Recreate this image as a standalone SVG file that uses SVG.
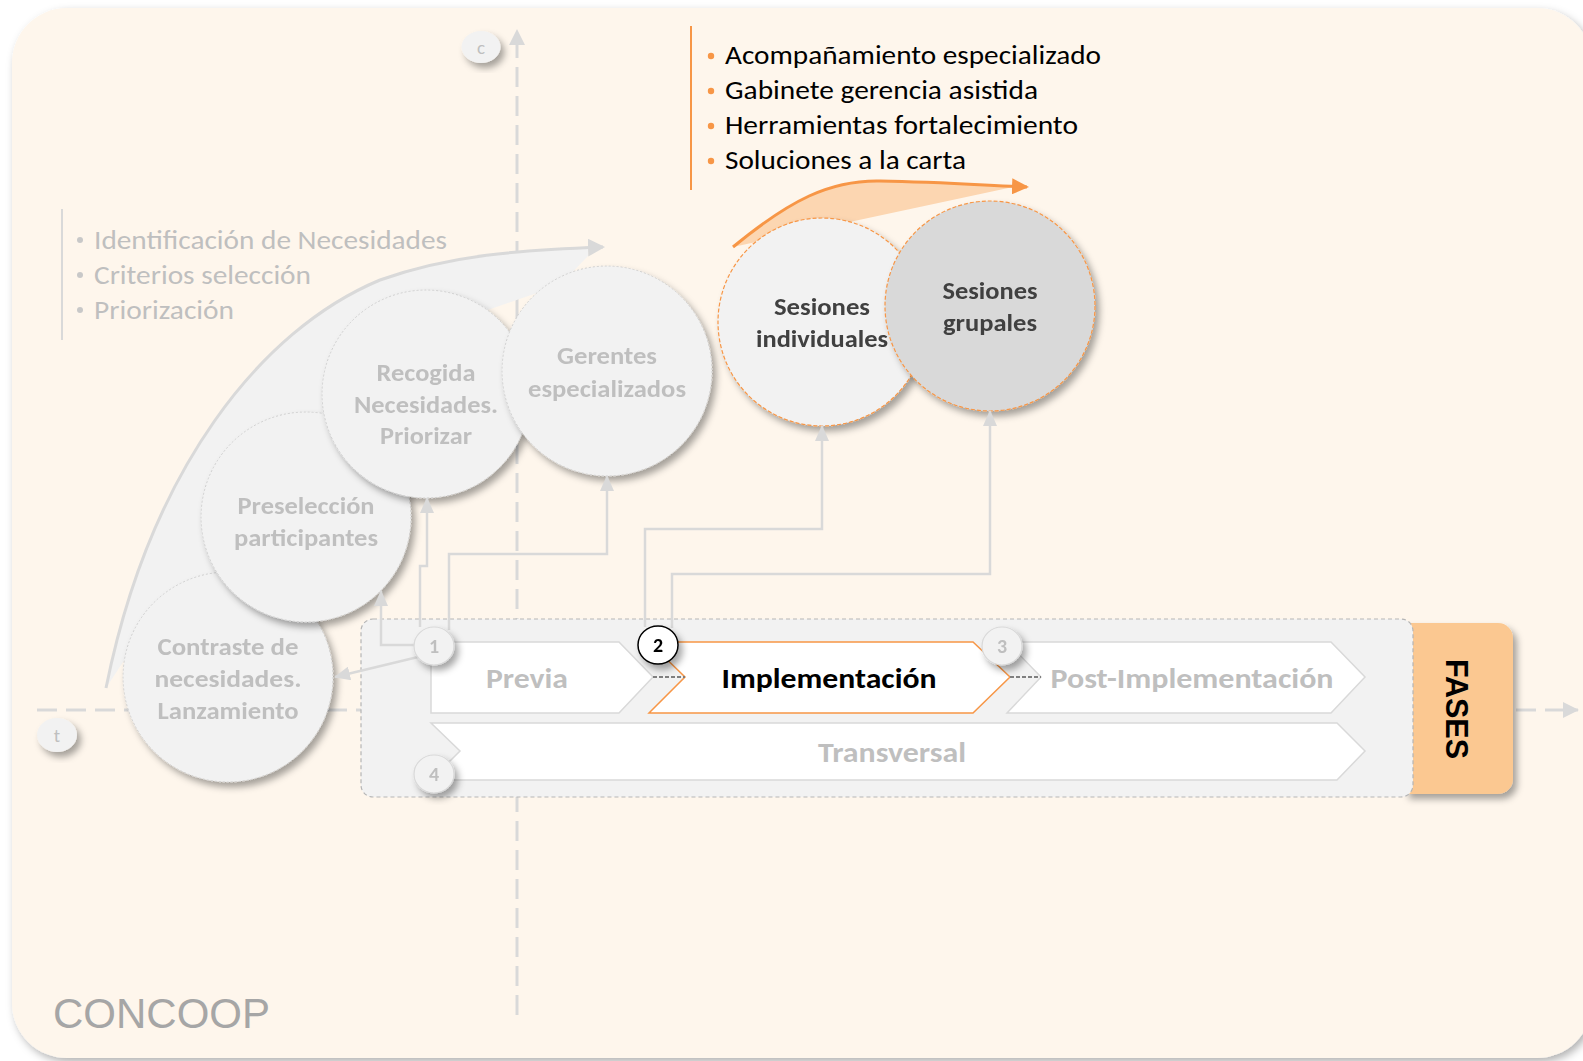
<svg xmlns="http://www.w3.org/2000/svg" width="1583" height="1061" viewBox="0 0 1583 1061">
<style>
.f{font-family:Carlito,Calibri,Lato,'Open Sans',sans-serif}
.axis{stroke:#D9D9D9;stroke-width:3;fill:none;stroke-dasharray:20 9}
.circ{fill:#F2F2F2;stroke:#CFCFCF;stroke-width:1;stroke-dasharray:2 2}
.scirc{stroke:#F79646;stroke-width:1.2;stroke-dasharray:4 2}
.ct{font-weight:bold;font-size:24px;fill:#BFBFBF;text-anchor:middle}
.st{font-weight:bold;font-size:24px;fill:#404040;text-anchor:middle}
.conn{stroke:#D9D9D9;stroke-width:2.5;fill:none;marker-end:url(#ga)}
.chev{fill:#FFFFFF;stroke:#D9D9D9;stroke-width:1.5}
.pt{font-weight:bold;font-size:28px;fill:#BFBFBF;text-anchor:middle}
.num{fill:#F2F2F2;stroke:#D9D9D9;stroke-width:1.2}
.nt{font-weight:bold;font-size:20px;fill:#BFBFBF;text-anchor:middle}
.gl{font-size:27px;fill:#BFBFBF}
.ol{font-size:27px;fill:#000000}
.gb{fill:#C8C8C8}
.ob{fill:#F79646}
.notch{stroke:#7F7F7F;stroke-width:2;stroke-dasharray:4 2}
</style>
<defs>
<filter id="sh" x="-20%" y="-20%" width="150%" height="150%">
<feDropShadow dx="4" dy="5" stdDeviation="3.5" flood-color="#000" flood-opacity="0.35"/>
</filter>
<filter id="bgsh" x="-5%" y="-5%" width="110%" height="110%">
<feDropShadow dx="3" dy="4" stdDeviation="4" flood-color="#000" flood-opacity="0.3"/>
</filter>
<marker id="ga" markerUnits="userSpaceOnUse" markerWidth="16" markerHeight="14" refX="15" refY="7" orient="auto">
<path d="M0,0 L16,7 L0,14 Z" fill="#D9D9D9"/>
</marker>
<marker id="axa" markerUnits="userSpaceOnUse" markerWidth="16" markerHeight="16" refX="15" refY="8" orient="auto">
<path d="M0,0 L16,8 L0,16 Z" fill="#D9D9D9"/>
</marker>
<marker id="lga" markerUnits="userSpaceOnUse" markerWidth="17" markerHeight="18" refX="15" refY="9" orient="auto">
<path d="M0,0 L17,9 L0,18 Z" fill="#D9D9D9"/>
</marker>
<marker id="oa" markerUnits="userSpaceOnUse" markerWidth="17" markerHeight="16" refX="15" refY="8" orient="auto">
<path d="M0,0 L17,8 L0,16 Z" fill="#F79646"/>
</marker>
</defs>

<rect id="background" x="12" y="8" width="1580" height="1050" rx="55" fill="#FEF6EC" filter="url(#bgsh)"/>

<g id="axes">
<line class="axis" x1="517" y1="1015" x2="517" y2="30" marker-end="url(#axa)"/>
<line class="axis" x1="37" y1="710" x2="1578" y2="710" marker-end="url(#axa)"/>
</g>

<g id="axis-c">
<ellipse cx="481" cy="47" rx="19.5" ry="16" fill="#F2F2F2" filter="url(#sh)"/>
<text class="f" x="481" y="54" font-size="19" fill="#BFBFBF" text-anchor="middle">c</text>
</g>
<g id="axis-t">
<ellipse cx="57" cy="735" rx="20" ry="17" fill="#F2F2F2" filter="url(#sh)"/>
<text class="f" x="57" y="742" font-size="19" fill="#BFBFBF" text-anchor="middle">t</text>
</g>

<g id="left-list">
<line x1="62" y1="209" x2="62" y2="340" stroke="#D9D9D9" stroke-width="2"/>
<circle class="gb" cx="80" cy="240" r="3"/>
<text class="f gl" x="94" y="249" textLength="353" lengthAdjust="spacingAndGlyphs">Identificación de Necesidades</text>
<circle class="gb" cx="80" cy="275" r="3"/>
<text class="f gl" x="94" y="284" textLength="217" lengthAdjust="spacingAndGlyphs">Criterios selección</text>
<circle class="gb" cx="80" cy="310" r="3"/>
<text class="f gl" x="94" y="319" textLength="140" lengthAdjust="spacingAndGlyphs">Priorización</text>
</g>

<g id="left-arrow">
<path d="M106,688 C150,470 260,330 380,280 C450,255 520,250 588,248 L588,256 L560,285 L430,330 L320,450 L220,600 L123,662 Z" fill="#F2F2F2"/>
<path d="M106,688 C150,470 260,330 380,280 C450,255 520,250 603,247" fill="none" stroke="#D9D9D9" stroke-width="3" marker-end="url(#lga)"/>
</g>

<g id="node-contraste" filter="url(#sh)">
<circle class="circ" cx="228" cy="677" r="105"/>
<text class="f ct" x="228" y="655" textLength="141" lengthAdjust="spacingAndGlyphs">Contraste de</text>
<text class="f ct" x="228" y="687" textLength="147" lengthAdjust="spacingAndGlyphs">necesidades.</text>
<text class="f ct" x="228" y="719" textLength="141" lengthAdjust="spacingAndGlyphs">Lanzamiento</text>
</g>
<g id="node-preseleccion" filter="url(#sh)">
<circle class="circ" cx="306" cy="517" r="105"/>
<text class="f ct" x="306" y="514" textLength="137" lengthAdjust="spacingAndGlyphs">Preselección</text>
<text class="f ct" x="306" y="546" textLength="144" lengthAdjust="spacingAndGlyphs">participantes</text>
</g>
<g id="node-recogida" filter="url(#sh)">
<circle class="circ" cx="426" cy="394" r="104"/>
<text class="f ct" x="426" y="381" textLength="99" lengthAdjust="spacingAndGlyphs">Recogida</text>
<text class="f ct" x="426" y="413" textLength="144" lengthAdjust="spacingAndGlyphs">Necesidades.</text>
<text class="f ct" x="426" y="444" textLength="92" lengthAdjust="spacingAndGlyphs">Priorizar</text>
</g>
<g id="node-gerentes" filter="url(#sh)">
<circle class="circ" cx="607" cy="371" r="105"/>
<text class="f ct" x="607" y="364" textLength="100" lengthAdjust="spacingAndGlyphs">Gerentes</text>
<text class="f ct" x="607" y="397" textLength="158" lengthAdjust="spacingAndGlyphs">especializados</text>
</g>

<g id="right-list">
<line x1="691" y1="26" x2="691" y2="190" stroke="#F79646" stroke-width="2"/>
<circle class="ob" cx="711" cy="56" r="3.2"/>
<text class="f ol" x="725" y="64" textLength="376" lengthAdjust="spacingAndGlyphs">Acompañamiento especializado</text>
<circle class="ob" cx="711" cy="91" r="3.2"/>
<text class="f ol" x="725" y="99" textLength="313" lengthAdjust="spacingAndGlyphs">Gabinete gerencia asistida</text>
<circle class="ob" cx="711" cy="126" r="3.2"/>
<text class="f ol" x="725" y="134" textLength="353" lengthAdjust="spacingAndGlyphs">Herramientas fortalecimiento</text>
<circle class="ob" cx="711" cy="161" r="3.2"/>
<text class="f ol" x="725" y="169" textLength="241" lengthAdjust="spacingAndGlyphs">Soluciones a la carta</text>
</g>

<g id="right-arrow-fill">
<path d="M733,247 C790,200 830,180 880,181 C940,182 980,185 1013,187 L733,247 Z" fill="#FCD6B1"/>
</g>

<g id="node-individuales" filter="url(#sh)">
<circle class="scirc" cx="822" cy="322" r="104" fill="#F2F2F2"/>
<text class="f st" x="822" y="315" textLength="96" lengthAdjust="spacingAndGlyphs">Sesiones</text>
<text class="f st" x="822" y="347" textLength="132" lengthAdjust="spacingAndGlyphs">individuales</text>
</g>
<g id="node-grupales" filter="url(#sh)">
<circle class="scirc" cx="990" cy="306" r="105" fill="#D9D9D9"/>
<text class="f st" x="990" y="299" textLength="95" lengthAdjust="spacingAndGlyphs">Sesiones</text>
<text class="f st" x="990" y="331" textLength="94" lengthAdjust="spacingAndGlyphs">grupales</text>
</g>

<g id="right-arrow">
<path d="M733,247 C790,200 830,180 880,181 C940,182 980,185 1027,187" fill="none" stroke="#F79646" stroke-width="3" marker-end="url(#oa)"/>
</g>

<g id="fases-tab" filter="url(#sh)">
<path d="M1405,623 H1498 A15,15 0 0 1 1513,638 V779 A15,15 0 0 1 1498,794 H1405 Z" fill="#FBC891"/>
</g>
<g id="phases-panel">
<rect x="361" y="619" width="1052" height="178" rx="12" fill="#F2F2F2" stroke="#B5B5B5" stroke-width="1.2" stroke-dasharray="4 3"/>
</g>
<g id="fases-label">
<text transform="translate(1446,709) rotate(90)" x="0" y="0" font-family="'Liberation Sans',Arial,sans-serif" font-weight="bold" font-size="32" fill="#000" text-anchor="middle" textLength="100" lengthAdjust="spacingAndGlyphs">FASES</text>
</g>

<g id="phase-previa">
<polygon class="chev" points="431,642 619,642 653,677 619,713 431,713"/>
<text class="f pt" x="527" y="688" textLength="82" lengthAdjust="spacingAndGlyphs">Previa</text>
</g>
<g id="phase-implementacion">
<polygon points="649,642 973,642 1010,677 973,713 649,713 685,677" fill="#FFFFFF" stroke="#F79646" stroke-width="1.5"/>
<text class="f pt" x="829" y="688" style="fill:#000000" textLength="215" lengthAdjust="spacingAndGlyphs">Implementación</text>
</g>
<g id="phase-post">
<polygon class="chev" points="1007,642 1331,642 1365,677 1331,713 1007,713 1041,677"/>
<text class="f pt" x="1192" y="688" textLength="283" lengthAdjust="spacingAndGlyphs">Post-Implementación</text>
</g>
<g id="phase-transversal">
<polygon class="chev" points="431,723 1337,723 1365,751 1337,780 431,780 460,751"/>
<text class="f pt" x="892" y="762" textLength="148" lengthAdjust="spacingAndGlyphs">Transversal</text>
</g>

<g id="connectors">
<line class="notch" x1="653" y1="677" x2="685" y2="677"/>
<line class="notch" x1="1010" y1="677" x2="1041" y2="677"/>
<path class="conn" d="M418,657 L335,677"/>
<path class="conn" d="M416,645 H381 V591"/>
<path class="conn" d="M420,627 V566 H427 V498"/>
<path class="conn" d="M449,630 V554 H607 V476"/>
<path class="conn" d="M645,627 V529 H822 V426"/>
<path class="conn" d="M672,628 V574 H990 V411"/>
</g>

<g id="num-1" filter="url(#sh)">
<ellipse class="num" cx="434" cy="646" rx="20" ry="19"/>
<text class="f nt" x="434" y="653">1</text>
</g>
<g id="num-2" filter="url(#sh)">
<ellipse cx="658" cy="645" rx="20" ry="19" fill="#FFFFFF" stroke="#000" stroke-width="1.5"/>
<text class="f nt" x="658" y="652" style="fill:#000">2</text>
</g>
<g id="num-3" filter="url(#sh)">
<ellipse class="num" cx="1002" cy="646" rx="20" ry="19"/>
<text class="f nt" x="1002" y="653">3</text>
</g>
<g id="num-4" filter="url(#sh)">
<ellipse class="num" cx="434" cy="774" rx="20" ry="19"/>
<text class="f nt" x="434" y="781">4</text>
</g>

<text id="brand" x="53" y="1028" font-family="'Liberation Sans',Arial,sans-serif" font-size="42" fill="#A6A6A6">CONCOOP</text>
</svg>
